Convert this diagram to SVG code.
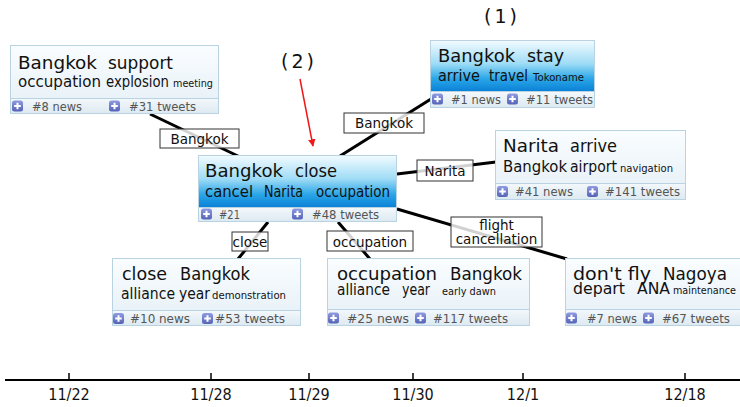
<svg xmlns="http://www.w3.org/2000/svg" width="740" height="407" viewBox="0 0 740 407">
<defs>
<linearGradient id="gPlain" x1="0" y1="0" x2="0" y2="1">
<stop offset="0" stop-color="#fafdff"/><stop offset="1" stop-color="#e4eff6"/>
</linearGradient>
<linearGradient id="gHi" x1="0" y1="0" x2="0" y2="1">
<stop offset="0" stop-color="#f2fbff"/><stop offset="0.45" stop-color="#9fdcf6"/><stop offset="0.75" stop-color="#2aa6e8"/><stop offset="1" stop-color="#0a80d6"/>
</linearGradient>
<linearGradient id="gFoot" x1="0" y1="0" x2="0" y2="1">
<stop offset="0" stop-color="#f3f8fb"/><stop offset="1" stop-color="#dde9f1"/>
</linearGradient>
<linearGradient id="gIcon" x1="0" y1="0" x2="0" y2="1">
<stop offset="0" stop-color="#8f9be0"/><stop offset="1" stop-color="#5563b8"/>
</linearGradient>
<g id="plus">
<rect x="0" y="0" width="11" height="11" rx="2.5" fill="url(#gIcon)"/>
<path d="M5.5 2.2V8.8M2.2 5.5H8.8" stroke="#fff" stroke-width="2"/>
</g>
<marker id="ah" viewBox="0 0 10 10" refX="9" refY="5" markerWidth="5" markerHeight="5" orient="auto">
<path d="M0 0L10 5L0 10z" fill="#f01818"/>
</marker>
</defs>
<style>
text{font-family:"DejaVu Sans","Liberation Sans",sans-serif;fill:#111}
.box{fill:url(#gPlain);stroke:#b9d3e3;stroke-width:1}
.hi{fill:url(#gHi);stroke:#b9d3e3;stroke-width:1}
.foot{fill:url(#gFoot);stroke:#b9d3e3;stroke-width:1}
.t1{font-size:18px}
.t1b{font-size:17px}
.t2{font-size:15px}
.t3{font-size:10px}
.ft{font-size:11.5px;fill:#555}
.edge{stroke:#000;stroke-width:3;fill:none}
.lab rect{fill:#fff;fill-opacity:0.82;stroke:#333;stroke-width:1}
.lab text{font-size:13.5px;text-anchor:middle}
.axis{stroke:#000;stroke-width:2}
.tick{stroke:#000;stroke-width:1.5}
.date{font-family:"DejaVu Sans Condensed","Liberation Sans Narrow",sans-serif;font-stretch:condensed;font-size:16px;text-anchor:middle}
.mark{font-size:19px;text-anchor:middle;letter-spacing:3px}
</style>

<g id="connectors">
<line class="edge" x1="150" y1="114" x2="240" y2="157"/>
<line class="edge" x1="340" y1="156" x2="431" y2="99"/>
<line class="edge" x1="397" y1="174" x2="496" y2="162"/>
<line class="edge" x1="397" y1="209" x2="567" y2="259"/>
<line class="edge" x1="268" y1="222" x2="238" y2="259"/>
<line class="edge" x1="338" y1="222" x2="370" y2="259"/>
<g class="lab"><rect x="160" y="129" width="79" height="19"/><text x="199.5" y="144">Bangkok</text></g>
<g class="lab"><rect x="344" y="113" width="80" height="20"/><text x="384" y="128">Bangkok</text></g>
<g class="lab"><rect x="417" y="160" width="56" height="21"/><text x="445" y="175.5">Narita</text></g>
<g class="lab"><rect x="451" y="217" width="91" height="30"/><text x="496.5" y="230">flight</text><text x="496.5" y="244">cancellation</text></g>
<g class="lab"><rect x="232" y="232" width="36" height="19"/><text x="250" y="246.5">close</text></g>
<g class="lab"><rect x="327" y="231" width="86" height="20"/><text x="370" y="246.5">occupation</text></g>
</g>

<g id="nodeA">
<rect class="box" x="10.5" y="45.5" width="208" height="68"/>
<rect class="foot" x="10.5" y="98.5" width="208" height="15"/>
<text class="t1" x="18" y="68.5" textLength="79" lengthAdjust="spacingAndGlyphs">Bangkok</text>
<text class="t1b" x="108" y="68.5" textLength="65" lengthAdjust="spacingAndGlyphs">support</text>
<text class="t2" x="18" y="87" textLength="83" lengthAdjust="spacingAndGlyphs">occupation</text>
<text class="t2" x="106" y="87" textLength="63" lengthAdjust="spacingAndGlyphs">explosion</text>
<text class="t3" x="173" y="87" textLength="40" lengthAdjust="spacingAndGlyphs">meeting</text>
<use href="#plus" x="12" y="100.5"/><text class="ft" x="32" y="110.5" textLength="50" lengthAdjust="spacingAndGlyphs">#8 news</text>
<use href="#plus" x="109" y="100.5"/><text class="ft" x="129" y="110.5" textLength="67" lengthAdjust="spacingAndGlyphs">#31 tweets</text>
</g>

<g id="nodeB">
<rect class="hi" x="198.5" y="155.5" width="198" height="52"/>
<rect class="foot" x="198.5" y="207.5" width="198" height="14"/>
<text class="t1" x="205" y="176.5" textLength="78" lengthAdjust="spacingAndGlyphs">Bangkok</text>
<text class="t1b" x="295" y="176.5" textLength="42" lengthAdjust="spacingAndGlyphs">close</text>
<text class="t2" x="205" y="196.5" textLength="48" lengthAdjust="spacingAndGlyphs">cancel</text>
<text class="t2" x="264" y="196.5" textLength="39" lengthAdjust="spacingAndGlyphs">Narita</text>
<text class="t2" x="316" y="196.5" textLength="74" lengthAdjust="spacingAndGlyphs">occupation</text>
<use href="#plus" x="201" y="208.5"/><text class="ft" x="219" y="219" textLength="21" lengthAdjust="spacingAndGlyphs">#21</text>
<use href="#plus" x="292" y="208.5"/><text class="ft" x="312" y="219" textLength="67" lengthAdjust="spacingAndGlyphs">#48 tweets</text>
</g>

<g id="nodeC">
<rect class="hi" x="430.5" y="40.5" width="164" height="51"/>
<rect class="foot" x="430.5" y="91.5" width="164" height="16"/>
<text class="t1" x="438" y="62" textLength="77" lengthAdjust="spacingAndGlyphs">Bangkok</text>
<text class="t1b" x="527" y="62" textLength="37" lengthAdjust="spacingAndGlyphs">stay</text>
<text class="t2" x="438" y="80.5" textLength="42" lengthAdjust="spacingAndGlyphs">arrive</text>
<text class="t2" x="489" y="80.5" textLength="39" lengthAdjust="spacingAndGlyphs">travel</text>
<text class="t3" x="533" y="80.5" textLength="51" lengthAdjust="spacingAndGlyphs">Tokoname</text>
<use href="#plus" x="432" y="93.5"/><text class="ft" x="451" y="103.5" textLength="50" lengthAdjust="spacingAndGlyphs">#1 news</text>
<use href="#plus" x="507" y="93.5"/><text class="ft" x="526" y="103.5" textLength="67" lengthAdjust="spacingAndGlyphs">#11 tweets</text>
</g>

<g id="nodeD">
<rect class="box" x="495.5" y="130.5" width="190" height="69"/>
<rect class="foot" x="495.5" y="183.5" width="190" height="16"/>
<text class="t1" x="503" y="152" textLength="56" lengthAdjust="spacingAndGlyphs">Narita</text>
<text class="t1b" x="570" y="152" textLength="47" lengthAdjust="spacingAndGlyphs">arrive</text>
<text class="t2" x="503" y="172" textLength="64" lengthAdjust="spacingAndGlyphs">Bangkok</text>
<text class="t2" x="570" y="172" textLength="47" lengthAdjust="spacingAndGlyphs">airport</text>
<text class="t3" x="620" y="172" textLength="53" lengthAdjust="spacingAndGlyphs">navigation</text>
<use href="#plus" x="497" y="186"/><text class="ft" x="515" y="196" textLength="58" lengthAdjust="spacingAndGlyphs">#41 news</text>
<use href="#plus" x="587" y="186"/><text class="ft" x="605" y="196" textLength="75" lengthAdjust="spacingAndGlyphs">#141 tweets</text>
</g>

<g id="nodeE">
<rect class="box" x="112.5" y="258.5" width="188" height="67"/>
<rect class="foot" x="112.5" y="310.5" width="188" height="15"/>
<text class="t1" x="122" y="280" textLength="45" lengthAdjust="spacingAndGlyphs">close</text>
<text class="t1b" x="180" y="280" textLength="70" lengthAdjust="spacingAndGlyphs">Bangkok</text>
<text class="t2" x="121" y="298.5" textLength="54" lengthAdjust="spacingAndGlyphs">alliance</text>
<text class="t2" x="179" y="298.5" textLength="31" lengthAdjust="spacingAndGlyphs">year</text>
<text class="t3" x="212" y="298.5" textLength="74" lengthAdjust="spacingAndGlyphs">demonstration</text>
<use href="#plus" x="113" y="313"/><text class="ft" x="130" y="322.5" textLength="60" lengthAdjust="spacingAndGlyphs">#10 news</text>
<use href="#plus" x="202" y="313"/><text class="ft" x="215" y="322.5" textLength="70" lengthAdjust="spacingAndGlyphs">#53 tweets</text>
</g>

<g id="nodeF">
<rect class="box" x="327.5" y="258.5" width="202" height="67"/>
<rect class="foot" x="327.5" y="309.5" width="202" height="16"/>
<text class="t1" x="337" y="280" textLength="100" lengthAdjust="spacingAndGlyphs">occupation</text>
<text class="t1b" x="450" y="280" textLength="72" lengthAdjust="spacingAndGlyphs">Bangkok</text>
<text class="t2" x="337" y="294.5" textLength="53" lengthAdjust="spacingAndGlyphs">alliance</text>
<text class="t2" x="402" y="294.5" textLength="28" lengthAdjust="spacingAndGlyphs">year</text>
<text class="t3" x="442" y="294.5" textLength="54" lengthAdjust="spacingAndGlyphs">early dawn</text>
<use href="#plus" x="328" y="312.5"/><text class="ft" x="347" y="322.5" textLength="62" lengthAdjust="spacingAndGlyphs">#25 news</text>
<use href="#plus" x="415" y="312.5"/><text class="ft" x="433" y="322.5" textLength="75" lengthAdjust="spacingAndGlyphs">#117 tweets</text>
</g>

<g id="nodeG">
<rect class="box" x="565.5" y="258.5" width="180" height="67"/>
<rect class="foot" x="565.5" y="309.5" width="180" height="16"/>
<text class="t1b" x="573" y="280" textLength="78" lengthAdjust="spacingAndGlyphs">don't fly</text>
<text class="t1b" x="663" y="280" textLength="64" lengthAdjust="spacingAndGlyphs">Nagoya</text>
<text class="t2" x="573" y="293.5" textLength="52" lengthAdjust="spacingAndGlyphs">depart</text>
<text class="t2" x="637" y="293.5" textLength="33" lengthAdjust="spacingAndGlyphs">ANA</text>
<text class="t3" x="673" y="293.5" textLength="63" lengthAdjust="spacingAndGlyphs">maintenance</text>
<use href="#plus" x="566" y="312.5"/><text class="ft" x="587" y="322.5" textLength="50" lengthAdjust="spacingAndGlyphs">#7 news</text>
<use href="#plus" x="643" y="312.5"/><text class="ft" x="662" y="322.5" textLength="68" lengthAdjust="spacingAndGlyphs">#67 tweets</text>
</g>

<g id="annotations">
<text class="mark" x="502" y="23">(1)</text>
<text class="mark" x="299" y="68">(2)</text>
<line x1="300" y1="79" x2="313" y2="146" stroke="#f01818" stroke-width="1.5" marker-end="url(#ah)"/>
</g>

<g id="timeline">
<line class="axis" x1="5" y1="380" x2="740" y2="380"/>
<line class="tick" x1="69" y1="373" x2="69" y2="380"/>
<line class="tick" x1="211" y1="373" x2="211" y2="380"/>
<line class="tick" x1="309" y1="373" x2="309" y2="380"/>
<line class="tick" x1="413" y1="373" x2="413" y2="380"/>
<line class="tick" x1="523" y1="373" x2="523" y2="380"/>
<line class="tick" x1="685" y1="373" x2="685" y2="380"/>
<text class="date" x="69" y="400">11/22</text>
<text class="date" x="211" y="400">11/28</text>
<text class="date" x="309" y="400">11/29</text>
<text class="date" x="413" y="400">11/30</text>
<text class="date" x="523" y="400">12/1</text>
<text class="date" x="685" y="400">12/18</text>
</g>
</svg>
